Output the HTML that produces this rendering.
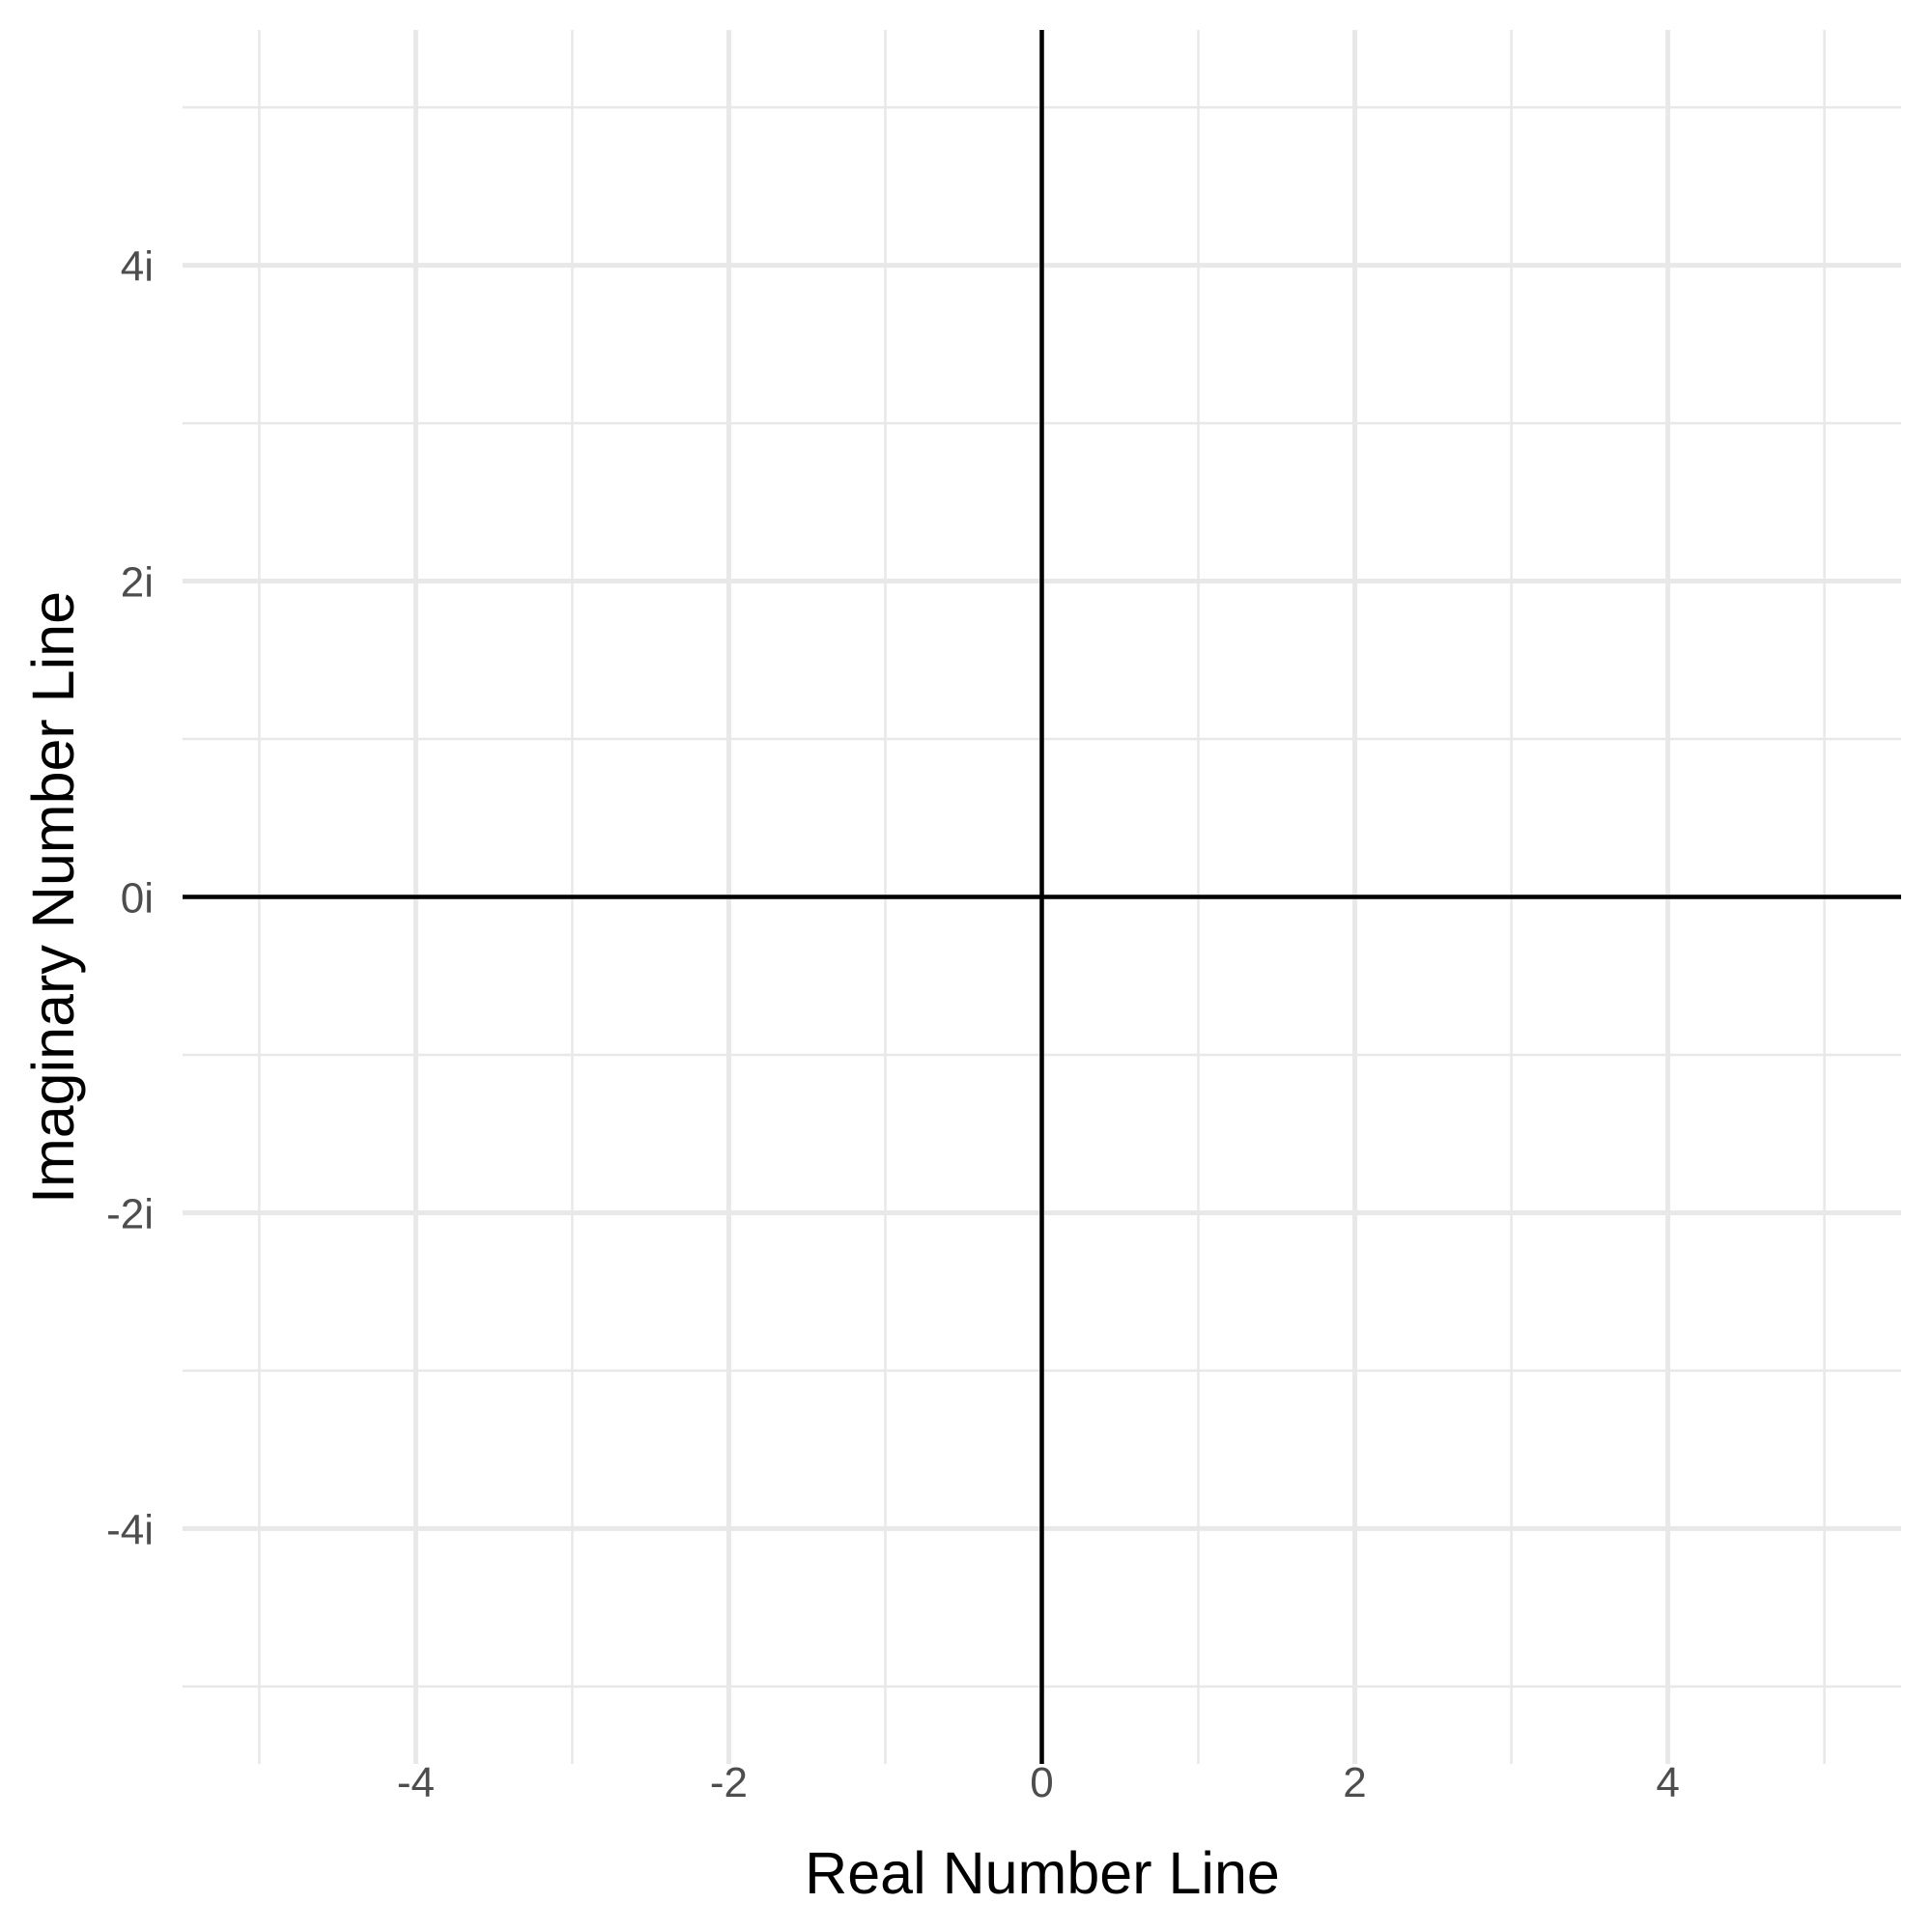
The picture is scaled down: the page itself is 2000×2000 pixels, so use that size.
<!DOCTYPE html>
<html><head><meta charset="utf-8"><style>
html,body{margin:0;padding:0;background:#fff;}
svg{display:block;font-family:"Liberation Sans",sans-serif;}
</style></head><body>
<svg id="chart" width="2000" height="2000" viewBox="0 0 2000 2000" xmlns="http://www.w3.org/2000/svg">
<rect x="0" y="0" width="2000" height="2000" fill="#fff"/>
<g id="grid"></g>
<g id="axes"></g>
<g id="labels"></g>
<text x="1079" y="1960" text-anchor="middle" font-size="61" fill="#000">Real Number Line</text>
<text transform="translate(76,929) rotate(-90)" text-anchor="middle" font-size="61" fill="#000">Imaginary Number Line</text>
</svg>
<script>
const xTicks = [-4, -2, 0, 2, 4];
const xTickLabels = ["-4", "-2", "0", "2", "4"];
const xMinor = [-5, -3, -1, 1, 3, 5];
const yTicks = [-4, -2, 0, 2, 4];
const yTickLabels = ["-4i", "-2i", "0i", "2i", "4i"];
const yMinor = [-5, -3, -1, 1, 3, 5];
const xDomain = [-5.49, 5.49];
const yDomain = [-5.49, 5.49];

const P = {l:189, r:1968, t:31, b:1826};
function sx(v){return P.l + (v - xDomain[0]) / (xDomain[1] - xDomain[0]) * (P.r - P.l);}
function sy(v){return P.b - (v - yDomain[0]) / (yDomain[1] - yDomain[0]) * (P.b - P.t);}
const NS = "http://www.w3.org/2000/svg";
function line(parent, x1, y1, x2, y2, stroke, w){
  const l = document.createElementNS(NS, "line");
  l.setAttribute("x1", x1); l.setAttribute("y1", y1);
  l.setAttribute("x2", x2); l.setAttribute("y2", y2);
  l.setAttribute("stroke", stroke); l.setAttribute("stroke-width", w);
  parent.appendChild(l);
  return l;
}
const grid = document.getElementById("grid");
const axes = document.getElementById("axes");
const labels = document.getElementById("labels");
xMinor.forEach(v => {
  const l = line(grid, sx(v), P.t, sx(v), P.b, "#e8e8e8", 2.5);
  
  
});
yMinor.forEach(v => {
  const l = line(grid, P.l, sy(v), P.r, sy(v), "#e8e8e8", 2.5);
  
  
});
xTicks.forEach((v, i) => {
  const l = line(grid, sx(v), P.t, sx(v), P.b, "#e8e8e8", 5);
  
  
  const t = document.createElementNS(NS, "text");
  t.setAttribute("x", sx(v)); t.setAttribute("y", 1860);
  t.setAttribute("text-anchor", "middle"); t.setAttribute("font-size", "44"); t.setAttribute("fill", "#4d4d4d");
  t.textContent = xTickLabels[i];
  
  
  labels.appendChild(t);
});
yTicks.forEach((v, i) => {
  const l = line(grid, P.l, sy(v), P.r, sy(v), "#e8e8e8", 5);
  
  
  const t = document.createElementNS(NS, "text");
  t.setAttribute("x", 159); t.setAttribute("y", sy(v) + 16);
  t.setAttribute("text-anchor", "end"); t.setAttribute("font-size", "44"); t.setAttribute("fill", "#4d4d4d");
  t.textContent = yTickLabels[i];
  
  
  labels.appendChild(t);
});
const hx = line(axes, P.l, sy(0), P.r, sy(0), "#000", 4.5);


const vy = line(axes, sx(0), P.t, sx(0), P.b, "#000", 4.5);


</script>
</body></html>
